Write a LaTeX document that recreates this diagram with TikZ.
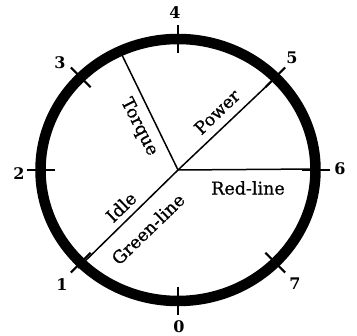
\documentclass[tikz,border=0pt]{standalone}
\usepackage{fontspec}
\newfontfamily\labfont[FakeBold=0.8]{DejaVu Serif}
\newfontfamily\numfont{DejaVu Serif}
\tikzset{
  ring/.style={line width=10.5pt},
  spoke/.style={line width=1.5pt},
  tick/.style={line width=2.2pt},
  lab/.style={font=\labfont\fontsize{17.5}{17.5}\selectfont, inner sep=0pt},
  num/.style={font=\numfont\bfseries\fontsize{16}{16}\selectfont, inner sep=0pt}
}
\begin{document}
\begin{tikzpicture}[x=1pt,y=-1pt]
\useasboundingbox (0,0) rectangle (357,336);
\fill[white] (0,0) rectangle (357,336);
\coordinate (c) at (178,170);
% ring
\draw[ring] (c) ellipse [x radius=137.5, y radius=131];
% spokes
\coordinate (tq) at (122,55);
\coordinate (pw) at (273,80);
\coordinate (rl) at (316,169);
\coordinate (gl) at (78,268);
\draw[spoke] (c) -- (tq);
\draw[spoke] (c) -- (pw);
\draw[spoke] (c) -- (rl);
\draw[spoke] (c) -- (gl);
% ticks
\foreach \a/\n in {0/t6,45/t5,90/t4,135/t3,180/t2,225/t1,270/t0,315/t7}{
  \coordinate (\n a) at ({178+123.5*cos(\a)},{170-117*sin(\a)});
  \coordinate (\n b) at ({178+151.5*cos(\a)},{170-145*sin(\a)});
  \draw[tick] (\n a) -- (\n b);
}
% numbers
\node[num] (n4) at (175,13) {4};
\node[num] (n5) at (292,58) {5};
\node[num] (n6) at (340,169) {6};
\node[num] (n7) at (295,284) {7};
\node[num] (n0) at (179,327) {0};
\node[num] (n1) at (62,285) {1};
\node[num] (n2) at (19,174) {2};
\node[num] (n3) at (60,63) {3};
% labels
\node[lab, rotate=-63] (torque) at (139,127) {Torque};
\node[lab, rotate=44] (power) at (217,112) {Power};
\node[lab] (redline) at (248,188) {Red-line};
\node[lab, rotate=44] (idle) at (121,207) {Idle};
\node[lab, rotate=44] (green) at (148,229) {Green-line};
\end{tikzpicture}
\end{document}
